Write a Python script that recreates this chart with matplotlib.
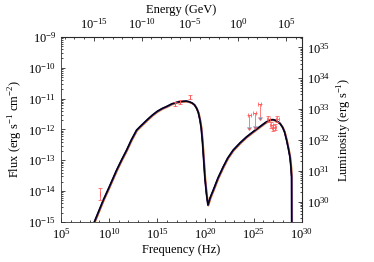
import numpy as np
import matplotlib
matplotlib.use("Agg")
import matplotlib.pyplot as plt
from matplotlib import ticker, transforms

plt.rcParams['font.family'] = ['Liberation Serif', 'DejaVu Serif']
plt.rcParams['mathtext.fontset'] = 'custom'
plt.rcParams['mathtext.rm'] = 'Liberation Serif'

# model curve (log10 nu, log10 nuFnu)
model_lognu = [8.2, 8.46, 9.39, 10.0, 10.77, 11.3, 11.81, 12.3, 12.85, 13.2, 13.6, 14.0,
               14.5, 15.0, 15.5, 16.0, 16.5, 17.0, 17.5, 18.0, 18.3, 18.6, 18.85, 19.07,
               19.25, 19.42, 19.55, 19.68, 19.8, 19.94, 20.1, 20.25,
               20.5, 20.8, 21.3, 21.84, 22.3, 22.87, 23.6, 24.26, 25.0, 25.64, 26.2,
               26.68, 27.0, 27.3, 27.72, 28.0, 28.2, 28.41, 28.6, 28.76, 28.86, 28.93, 28.95]
model_logF = [-15.2, -15.0, -14.29, -13.87, -13.32, -12.98, -12.67, -12.34, -12.02, -11.91, -11.79, -11.67,
              -11.53, -11.41, -11.32, -11.25, -11.17, -11.12, -11.09, -11.08, -11.10, -11.14, -11.20, -11.31,
              -11.45, -11.69, -11.95, -12.4, -12.95, -13.6, -14.1, -14.45,
              -14.2, -13.97, -13.57, -13.21, -12.93, -12.67, -12.43, -12.24, -12.06, -11.91, -11.78,
              -11.69, -11.68, -11.71, -11.80, -11.93, -12.08, -12.34, -12.62, -12.89, -13.2, -13.54, -16.0]

# data points
det_lognu = [9.05, 16.83, 17.34, 18.38, 26.50, 26.85, 27.02, 27.20, 27.44]
det_logF = [-14.1, -11.18, -11.11, -10.95, -11.66, -11.86, -11.96, -11.91, -11.66]
det_yerr = [0.2, 0.06, 0.06, 0.06, 0.1, 0.1, 0.1, 0.1, 0.1]
det_xerr = [0.0, 0.0, 0.0, 0.0, 0.15, 0.15, 0.15, 0.15, 0.15]
ul_lognu = [24.53, 25.12, 25.64]
ul_logF = [-11.53, -11.48, -11.19]

lum_factor = 10 ** 44.34
h_GeV = 4.1357e-24

fig = plt.figure(figsize=(3.74, 2.62), dpi=100)
ax = fig.add_axes([0.163, 0.153, 0.644, 0.706])

nu = 10 ** np.array(model_lognu)
F = 10 ** np.array(model_logF)

off = transforms.offset_copy(ax.transData, fig=fig, x=0.5, y=-0.6, units='dots')
ax.plot(nu, F, color='#ff9a1a', lw=1.4, transform=off, zorder=2, solid_joinstyle='round')
off2 = transforms.offset_copy(ax.transData, fig=fig, x=0.3, y=-0.3, units='dots')
ax.plot(nu, F, color='#7a3fa0', lw=1.3, transform=off2, zorder=3, solid_joinstyle='round')
ax.plot(nu, F, color='#1a1a5a', lw=1.2, zorder=4, solid_joinstyle='round')
ax.plot(nu, F, color='black', lw=0.7, zorder=5, solid_joinstyle='round')

red = '#ff5a5a'
dx = 10 ** np.array(det_lognu)
dy = 10 ** np.array(det_logF)
yerr_lo = dy - 10 ** (np.array(det_logF) - np.array(det_yerr))
yerr_hi = 10 ** (np.array(det_logF) + np.array(det_yerr)) - dy
xerr_lo = dx - 10 ** (np.array(det_lognu) - np.array(det_xerr))
xerr_hi = 10 ** (np.array(det_lognu) + np.array(det_xerr)) - dx
ax.errorbar(dx, dy, yerr=[yerr_lo, yerr_hi], xerr=[xerr_lo, xerr_hi], fmt='none',
            ecolor=red, elinewidth=0.7, capsize=1.5, capthick=0.7, alpha=0.8, zorder=6)

ux = 10 ** np.array(ul_lognu)
uy = 10 ** np.array(ul_logF)
ax.errorbar(ux, uy, yerr=uy * 0.6, xerr=[ux - 10 ** (np.array(ul_lognu) - 0.15),
                                         10 ** (np.array(ul_lognu) + 0.15) - ux],
            uplims=True, fmt='none', ecolor=red, elinewidth=0.7, capsize=1.5,
            capthick=0.7, alpha=0.8, zorder=6)

ax.set_xscale('log')
ax.set_yscale('log')
ax.set_xlim(1e5, 1e30)
ax.set_ylim(1e-15, 1e-9)

fs = 9
ax.xaxis.set_major_locator(ticker.FixedLocator([10.0 ** k for k in range(5, 31, 5)]))
ax.xaxis.set_minor_locator(ticker.FixedLocator([10.0 ** k for k in range(5, 31)]))
ax.xaxis.set_minor_formatter(ticker.NullFormatter())
ax.yaxis.set_major_locator(ticker.LogLocator(base=10, numticks=20))
ax.yaxis.set_minor_locator(ticker.LogLocator(base=10, subs=np.arange(2, 10), numticks=20))
ax.yaxis.set_minor_formatter(ticker.NullFormatter())
ax.tick_params(which='both', direction='in', labelsize=fs, width=0.5)
ax.tick_params(which='major', length=3)
ax.tick_params(which='minor', length=1.5)
ax.tick_params(axis='x', which='both', top=False)
ax.tick_params(axis='y', which='both', right=False)
for s in ax.spines.values():
    s.set_linewidth(0.6)
    s.set_color('#333333')

ax.set_xlabel('Frequency (Hz)', fontsize=fs, labelpad=2)
ax.set_ylabel(r'Flux (erg s$^{-1}$ cm$^{-2}$)', fontsize=fs, labelpad=2)

top = ax.secondary_xaxis('top', functions=(lambda x: x * h_GeV, lambda e: e / h_GeV))
top.xaxis.set_major_locator(ticker.FixedLocator([10.0 ** k for k in range(-15, 6, 5)]))
top.xaxis.set_minor_locator(ticker.FixedLocator([10.0 ** k for k in range(-19, 7)]))
top.xaxis.set_minor_formatter(ticker.NullFormatter())
top.tick_params(which='both', direction='in', labelsize=fs, width=0.5)
top.tick_params(which='major', length=3)
top.tick_params(which='minor', length=1.5)
top.set_xlabel('Energy (GeV)', fontsize=fs, labelpad=3)

right = ax.secondary_yaxis('right', functions=(lambda f: f * lum_factor, lambda l: l / lum_factor))
right.yaxis.set_major_locator(ticker.FixedLocator([10.0 ** k for k in range(30, 36)]))
right.yaxis.set_minor_locator(ticker.LogLocator(base=10, subs=np.arange(2, 10), numticks=20))
right.yaxis.set_minor_formatter(ticker.NullFormatter())
right.tick_params(which='both', direction='in', labelsize=fs, width=0.5)
right.tick_params(which='major', length=3)
right.tick_params(which='minor', length=1.5)
right.set_ylabel(r'Luminosity (erg s$^{-1}$)', fontsize=fs, labelpad=4)

fig.savefig('out.png', dpi=100)
